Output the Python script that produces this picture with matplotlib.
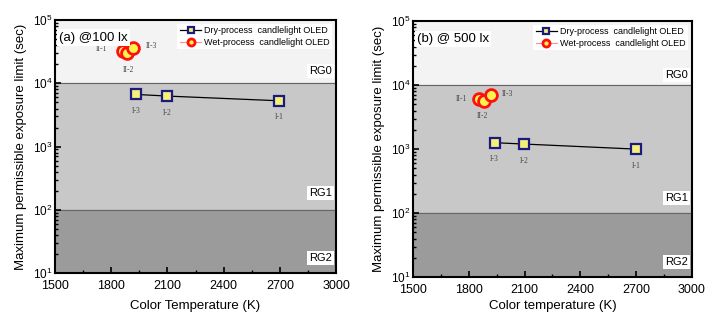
import numpy as np
import matplotlib
matplotlib.use('Agg')
import matplotlib.pyplot as plt

plt.rcParams['font.family'] = ['Liberation Sans', 'DejaVu Sans']

# panel (a) @100 lx
dry_t_a = [1932, 2096, 2697]
dry_v_a = [6680, 6300, 5300]
dry_lbl = ['I-3', 'I-2', 'I-1']
wet_t_a = [1861, 1883, 1918]
wet_v_a = [32700, 29700, 36500]
wet_lbl = ['II-1', 'II-2', 'II-3']

# panel (b) @500 lx
dry_t_b = [1939, 2099, 2701]
dry_v_b = [1260, 1200, 1000]
wet_t_b = [1855, 1882, 1918]
wet_v_b = [5980, 5620, 6900]

xticks = [1500, 1800, 2100, 2400, 2700, 3000]

fig = plt.figure(figsize=(7.06, 3.2), dpi=100)
ax1 = fig.add_axes([0.078, 0.147, 0.398, 0.79])
ax2 = fig.add_axes([0.585, 0.134, 0.395, 0.80])


def panel(ax, dt, dv, wt, wv, title, xlabel, wet_offsets, rg_y, lpad):
    ax.set_yscale('log')
    ax.set_xlim(1500, 3000)
    ax.set_ylim(10, 1e5)
    ax.axhspan(1e4, 1e5, color='#f3f3f3', zorder=0)
    ax.axhspan(1e2, 1e4, color='#c8c8c8', zorder=0)
    ax.axhspan(10, 1e2, color='#9b9b9b', zorder=0)
    ax.axhline(1e4, color='#666666', lw=0.8, zorder=1)
    ax.axhline(1e2, color='#666666', lw=0.8, zorder=1)

    ax.plot(dt, dv, '-s', color='black', lw=0.9, ms=6.5, mfc='#f5f07a',
            mec='#1a1a80', mew=1.6, label='Dry-process  candlelight OLED', zorder=3)
    ax.plot(wt, wv, '-o', color='#ff9090', lw=0.8, ms=8.5, mfc='#fff24a',
            mec='#ff1010', mew=2.0, label='Wet-process  candlelight OLED', zorder=3)

    for t, v, s in zip(dt, dv, dry_lbl):
        ax.annotate(s, (t, v), xytext=(0, -12), textcoords='offset points',
                    ha='center', va='center', fontsize=5.5, family='Liberation Serif',
                    color='#444444')
    for (t, v, s), off in zip(zip(wt, wv, wet_lbl), wet_offsets):
        ax.annotate(s, (t, v), xytext=off, textcoords='offset points',
                    ha='center', va='center', fontsize=5.5, family='Liberation Serif',
                    color='#444444')

    box = dict(facecolor='white', edgecolor='none', pad=1.5)
    ax.text(0.015, 0.955, title, transform=ax.transAxes, fontsize=9.5,
            va='top', ha='left', bbox=box)
    for lbl, yy in zip(['RG0', 'RG1', 'RG2'], rg_y):
        ax.text(0.985, yy, lbl, transform=ax.transAxes, fontsize=8,
                ha='right', va='center', bbox=box)

    leg = ax.legend(loc='upper right', fontsize=6.5, frameon=True, fancybox=False,
                    edgecolor='none', handlelength=2.4, borderpad=0.3,
                    labelspacing=0.25, handletextpad=0.3, borderaxespad=0.4,
                    markerscale=0.6)
    leg.get_frame().set_facecolor('white')
    leg.get_frame().set_alpha(1)

    ax.set_xticks(xticks)
    ax.set_xticks(np.arange(1650, 3000, 300), minor=True)
    ax.tick_params(axis='both', which='major', direction='in', length=4, width=1.2,
                   labelsize=9)
    ax.tick_params(axis='y', which='major', labelsize=8.5, pad=2)
    ax.tick_params(axis='x', which='major', pad=5)
    ax.tick_params(axis='both', which='minor', direction='in', length=2, width=1)
    ax.set_xlabel(xlabel, fontsize=9.5, labelpad=lpad)
    ax.set_ylabel('Maximum permissible exposure limit (sec)', fontsize=9.5)
    for sp in ax.spines.values():
        sp.set_linewidth(1.5)


panel(ax1, dry_t_a, dry_v_a, wet_t_a, wet_v_a, '(a) @100 lx',
      'Color Temperature (K)', [(-15, 1), (1, -12), (13, 1)], [0.80, 0.316, 0.06], 6)
panel(ax2, dry_t_b, dry_v_b, wet_t_b, wet_v_b, '(b) @ 500 lx',
      'Color temperature (K)', [(-13, 0), (-1, -11), (12, 1)], [0.79, 0.31, 0.06], 3)

fig.savefig('out.png', dpi=100)
